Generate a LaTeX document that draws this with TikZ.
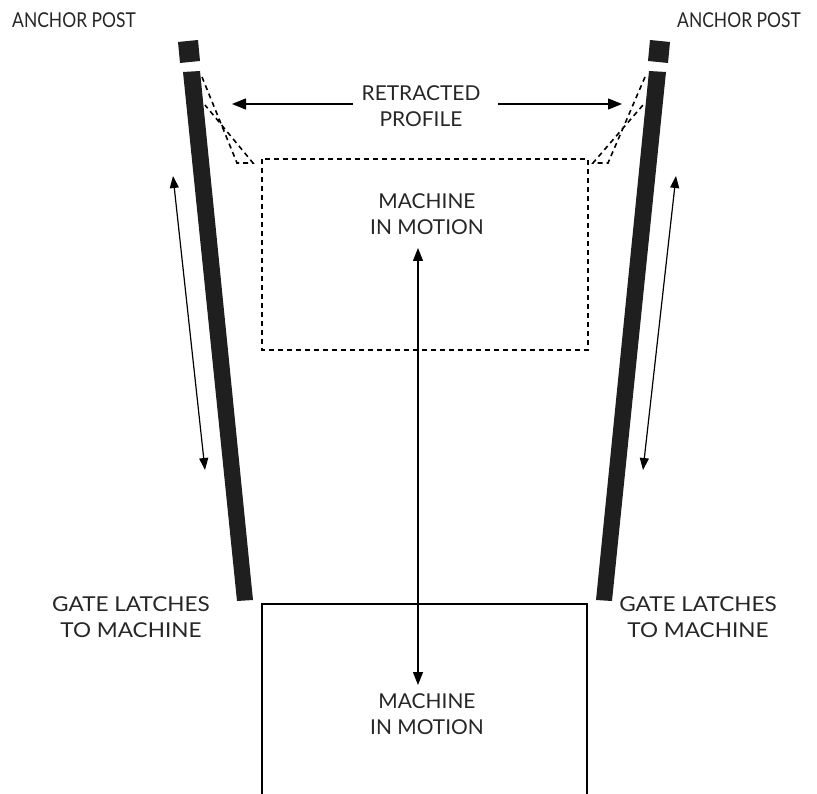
\documentclass[tikz,border=0pt]{standalone}
\usepackage{fontspec}
\setmainfont{Lato}
\newfontfamily\fanchor{Lato}[FakeStretch=0.85]
\newfontfamily\fgate{Lato}[FakeStretch=1.1]
\newfontfamily\fmid{Lato}[FakeStretch=1.02]
\usetikzlibrary{arrows.meta}
\begin{document}
\begin{tikzpicture}[x=1pt,y=-1pt,
  lbl/.style={font=\fontsize{20.5}{26.5}\selectfont, align=center, text=black!85, inner sep=0pt},
  dsh/.style={draw=black, line width=1.6pt, dash pattern=on 5pt off 4pt},
  arr/.style={line width=1.4pt, -{Triangle[length=14pt,width=11pt]}},
  darr/.style={line width=1.4pt, {Triangle[length=13pt,width=10pt]}-{Triangle[length=13pt,width=10pt]}},
  sarr/.style={line width=1.2pt, {Triangle[length=12pt,width=9pt]}-{Triangle[length=12pt,width=9pt]}}]
\useasboundingbox (0,0) rectangle (817,794);
% anchor posts
\fill[black!88] (178,42) -- (198,40) -- (200,61) -- (180,63) -- cycle;
\fill[black!88] (650,40) -- (670,42) -- (668,63) -- (648,61) -- cycle;
% bars
\fill[black!88] (183,72) -- (200,71) -- (253,600) -- (237,601) -- cycle;
\fill[black!88] (649,71) -- (666,72) -- (612,601) -- (596,600) -- cycle;
% retracted profile dashed outlines
\draw[dsh] (202,77) -- (237,163) -- (253,163) -- (205,105);
\draw[dsh] (645,77) -- (608,163) -- (593,163) -- (643,105);
% dashed box
\draw[dsh] (262,159) rectangle (588,350);
% solid box (open bottom)
\draw[line width=1.4pt] (262,794) -- (262,604) -- (587,604) -- (587,794);
% labels
\node[lbl] (apl) at (74,20) {\fanchor ANCHOR POST};
\node[lbl] (apr) at (739,20) {\fanchor ANCHOR POST};
\node[lbl] (rp) at (421,106) {\fmid RETRACTED\\\fmid PROFILE};
\node[lbl] (m1) at (427,214) {\fmid MACHINE\\\fmid IN MOTION};
\node[lbl] (m2) at (427,714) {\fmid MACHINE\\\fmid IN MOTION};
\node[lbl] (gl) at (131,617) {\fgate GATE LATCHES\\\fgate TO MACHINE};
\node[lbl] (gr) at (698,617) {\fgate GATE LATCHES\\\fgate TO MACHINE};
% arrows
\coordinate (la) at (232,104);
\coordinate (ra) at (622,104);
\coordinate (ls) at (353,104);
\coordinate (rs) at (498,104);
\draw[arr] (ls) -- (la);
\draw[arr] (rs) -- (ra);
\coordinate (ct) at (418,248);
\coordinate (cb) at (418,685);
\draw[darr] (ct) -- (cb);
\coordinate (l1) at (173,176);
\coordinate (l2) at (205,470);
\draw[sarr] (l1) -- (l2);
\coordinate (r1) at (676,176);
\coordinate (r2) at (643,470);
\draw[sarr] (r1) -- (r2);
\end{tikzpicture}
\end{document}
